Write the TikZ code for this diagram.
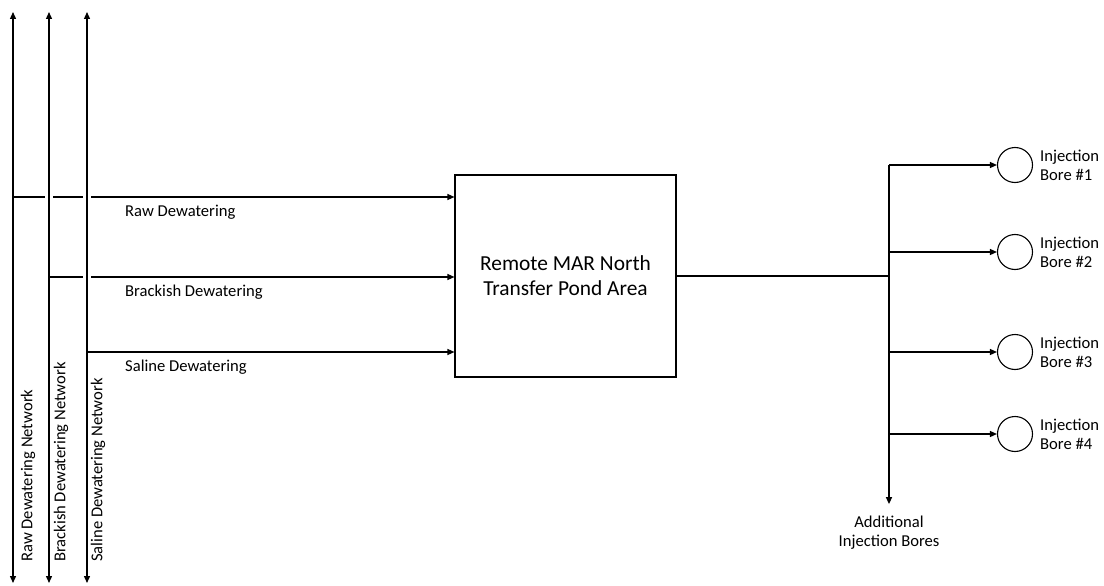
\documentclass[tikz,border=0pt]{standalone}
\usepackage{fontspec}
\setmainfont{Carlito}
\usetikzlibrary{arrows.meta}
\tikzset{
  pipe/.style={line width=1.3pt},
  flow/.style={pipe,-{Triangle[length=7pt,width=6pt]}},
  net/.style={pipe,{Triangle[length=7pt,width=6pt]}-{Triangle[length=7pt,width=6pt]}},
  bore/.style={circle,draw,line width=1.1pt,minimum size=35pt,inner sep=0pt},
  lbl/.style={font=\fontsize{16.6}{19}\selectfont,inner sep=0pt},
  jump/.style={fill=white,inner sep=0pt,minimum width=8pt,minimum height=5pt}
}
\begin{document}
\begin{tikzpicture}[x=1pt,y=-1pt]
  \useasboundingbox (0,0) rectangle (1104,586);
  \node[draw,line width=1.1pt,minimum width=221pt,minimum height=202pt,align=center,
    font=\fontsize{21.4}{25}\selectfont] (pond) at (565.5,276) {Remote MAR North\\Transfer Pond Area};
  % dewatering lines into the pond
  \coordinate (raw) at (13,197);
  \coordinate (brackish) at (49,277);
  \coordinate (saline) at (87,352);
  \draw[flow] (raw) -- (raw -| pond.west);
  \draw[flow] (brackish) -- (brackish -| pond.west);
  \draw[flow] (saline) -- (saline -| pond.west);
  \node[lbl,anchor=west] (rawlbl) at (125,212) {Raw Dewatering};
  \node[lbl,anchor=west] (brackishlbl) at (125,292) {Brackish Dewatering};
  \node[lbl,anchor=west] (salinelbl) at (125,367) {Saline Dewatering};
  \node[jump] (j1) at (49,197) {};
  \node[jump] (j2) at (87,197) {};
  \node[jump] (j3) at (87,277) {};
  % networks
  \draw[net] (13,12) -- (13,583);
  \draw[net] (49,12) -- (49,583);
  \draw[net] (87,12) -- (87,583);
  \node[lbl,rotate=90,anchor=west] (rawnet) at (28,562) {Raw Dewatering Network};
  \node[lbl,rotate=90,anchor=west] (brackishnet) at (61,562) {Brackish Dewatering Network};
  \node[lbl,rotate=90,anchor=west] (salinenet) at (98,562) {Saline Dewatering Network};
  % injection side
  \coordinate (hub) at (889,276);
  \draw[pipe] (pond.east) -- (hub);
  \node[lbl,align=center] (more) at (889,533) {Additional\\Injection Bores};
  \draw[flow] (889,165) -- ([yshift=12pt]more.north);
  \foreach \i/\y in {1/165,2/252,3/352,4/434}{
    \coordinate (split\i) at (889,\y);
    \node[bore] (bore\i) at (1015,\y) {};
    \node[lbl,align=left,anchor=west] (name\i) at (1040,\y) {Injection\\Bore \#\i};
    \draw[flow] (split\i) -- (bore\i.west);
  }
\end{tikzpicture}
\end{document}
